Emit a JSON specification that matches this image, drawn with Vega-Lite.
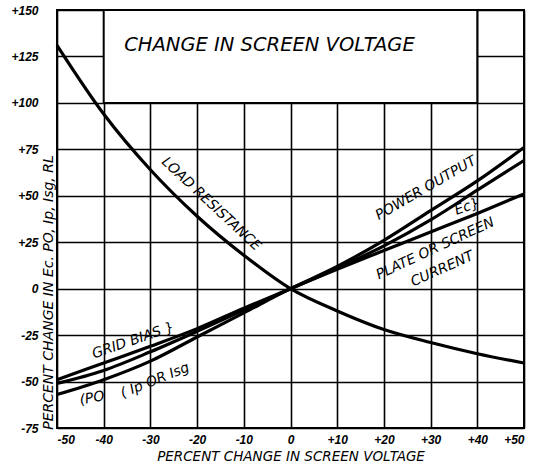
{
  "$schema": "https://vega.github.io/schema/vega-lite/v6.json",
  "width": 467,
  "height": 418,
  "autosize": {"type": "none"},
  "padding": {"left": 57, "top": 10, "right": 13, "bottom": 39},
  "background": "white",
  "config": {
    "view": {"stroke": "black", "strokeWidth": 2},
    "font": "DejaVu Sans",
    "text": {"font": "DejaVu Sans", "fontStyle": "italic", "fontSize": 14, "color": "black", "baseline": "middle"}
  },
  "datasets": {
    "curves": [
      {"x": -50, "v": -49, "s": "Ec"}, {"x": -40, "v": -40, "s": "Ec"}, {"x": -30, "v": -31, "s": "Ec"}, {"x": -20, "v": -21.5, "s": "Ec"}, {"x": -10, "v": -10.5, "s": "Ec"}, {"x": 0, "v": 0, "s": "Ec"}, {"x": 10, "v": 11, "s": "Ec"}, {"x": 20, "v": 23, "s": "Ec"}, {"x": 30, "v": 37, "s": "Ec"}, {"x": 40, "v": 53, "s": "Ec"}, {"x": 50, "v": 69, "s": "Ec"},
      {"x": -50, "v": -51, "s": "Ip"}, {"x": -40, "v": -44, "s": "Ip"}, {"x": -30, "v": -34, "s": "Ip"}, {"x": -20, "v": -23, "s": "Ip"}, {"x": -10, "v": -11.5, "s": "Ip"}, {"x": 0, "v": 0, "s": "Ip"}, {"x": 10, "v": 10.5, "s": "Ip"}, {"x": 20, "v": 20.5, "s": "Ip"}, {"x": 30, "v": 30.5, "s": "Ip"}, {"x": 40, "v": 40.5, "s": "Ip"}, {"x": 50, "v": 51, "s": "Ip"},
      {"x": -50, "v": -57, "s": "PO"}, {"x": -40, "v": -49, "s": "PO"}, {"x": -30, "v": -39, "s": "PO"}, {"x": -20, "v": -26, "s": "PO"}, {"x": -10, "v": -13, "s": "PO"}, {"x": 0, "v": 0, "s": "PO"}, {"x": 10, "v": 12, "s": "PO"}, {"x": 20, "v": 26, "s": "PO"}, {"x": 30, "v": 42, "s": "PO"}, {"x": 40, "v": 58, "s": "PO"}, {"x": 50, "v": 76, "s": "PO"},
      {"x": -50, "v": 131, "s": "RL"}, {"x": -40, "v": 94, "s": "RL"}, {"x": -30, "v": 64, "s": "RL"}, {"x": -20, "v": 39, "s": "RL"}, {"x": -10, "v": 18, "s": "RL"}, {"x": 0, "v": 0, "s": "RL"}, {"x": 10, "v": -12, "s": "RL"}, {"x": 20, "v": -22, "s": "RL"}, {"x": 30, "v": -29, "s": "RL"}, {"x": 40, "v": -35, "s": "RL"}, {"x": 50, "v": -40, "s": "RL"}
    ]
  },
  "encoding": {
    "x": {
      "field": "x", "type": "quantitative",
      "scale": {"domain": [-50, 50], "nice": false, "zero": false},
      "axis": {
        "values": [-50, -40, -30, -20, -10, 0, 10, 20, 30, 40, 50],
        "labelExpr": "datum.value > 0 ? '+' + datum.value : '' + datum.value",
        "grid": true, "gridColor": "black", "gridWidth": 1.6, "gridOpacity": 1,
        "domain": false, "ticks": false,
        "labelPadding": 6, "labelFont": "Liberation Sans", "labelFontStyle": "italic", "labelFontWeight": "bold", "labelFontSize": 12, "labelColor": "black",
        "title": "PERCENT CHANGE IN SCREEN VOLTAGE", "titleFont": "DejaVu Sans", "titleFontStyle": "italic", "titleFontWeight": "normal", "titleFontSize": 13.5, "titleColor": "black", "titlePadding": 4
      }
    },
    "y": {
      "field": "v", "type": "quantitative",
      "scale": {"domain": [-75, 150], "nice": false, "zero": false},
      "axis": {
        "values": [-75, -50, -25, 0, 25, 50, 75, 100, 125, 150],
        "labelExpr": "datum.value > 0 ? '+' + datum.value : '' + datum.value",
        "grid": true, "gridColor": "black", "gridWidth": 1.6, "gridOpacity": 1,
        "domain": false, "ticks": false,
        "labelPadding": 19, "labelFont": "Liberation Sans", "labelFontStyle": "italic", "labelFontWeight": "bold", "labelFontSize": 12, "labelColor": "black",
        "title": "PERCENT CHANGE IN Ec. PO, Ip, Isg, RL", "titleFont": "DejaVu Sans", "titleFontStyle": "italic", "titleFontWeight": "normal", "titleFontSize": 14, "titleColor": "black",
        "titleX": -2, "titleY": 282, "titleAngle": -90, "titleBaseline": "bottom"
      }
    }
  },
  "layer": [
    {
      "data": {"values": [{"x1": -40, "x2": 40, "y1": 100, "y2": 150}]},
      "mark": {"type": "rect", "fill": "white", "stroke": "black", "strokeWidth": 2},
      "encoding": {
        "x": {"field": "x1", "type": "quantitative"},
        "x2": {"field": "x2"},
        "y": {"field": "y1", "type": "quantitative"},
        "y2": {"field": "y2"}
      }
    },
    {
      "data": {"values": [{"x": -4.5, "v": 131, "t": "CHANGE IN SCREEN VOLTAGE"}]},
      "mark": {"type": "text", "fontSize": 19.5},
      "encoding": {"text": {"field": "t"}}
    },
    {
      "data": {"name": "curves"},
      "mark": {"type": "line", "interpolate": "monotone", "strokeWidth": 3.2, "color": "black"},
      "encoding": {"detail": {"field": "s"}}
    },
    {
      "data": {"values": [{"x": -17, "v": 45.5, "t": "LOAD RESISTANCE"}]},
      "mark": {"type": "text", "angle": 43},
      "encoding": {"text": {"field": "t"}}
    },
    {
      "data": {"values": [{"x": -33.7, "v": -28, "t": "GRID BIAS }"}]},
      "mark": {"type": "text", "angle": -19},
      "encoding": {"text": {"field": "t"}}
    },
    {
      "data": {"values": [{"x": -29, "v": -49.5, "t": "( Ip OR Isg"}]},
      "mark": {"type": "text", "angle": -22},
      "encoding": {"text": {"field": "t"}}
    },
    {
      "data": {"values": [{"x": -42.5, "v": -59, "t": "(PO"}]},
      "mark": {"type": "text", "angle": -10},
      "encoding": {"text": {"field": "t"}}
    },
    {
      "data": {"values": [{"x": 29, "v": 54, "t": "POWER OUTPUT"}]},
      "mark": {"type": "text", "angle": -30},
      "encoding": {"text": {"field": "t"}}
    },
    {
      "data": {"values": [{"x": 31, "v": 21.5, "t": "PLATE OR SCREEN"}]},
      "mark": {"type": "text", "angle": -25},
      "encoding": {"text": {"field": "t"}}
    },
    {
      "data": {"values": [{"x": 32.5, "v": 10.5, "t": "CURRENT"}]},
      "mark": {"type": "text", "angle": -24},
      "encoding": {"text": {"field": "t"}}
    },
    {
      "data": {"values": [{"x": 37.8, "v": 44, "t": "Ec}"}]},
      "mark": {"type": "text", "angle": -20},
      "encoding": {"text": {"field": "t"}}
    }
  ]
}
